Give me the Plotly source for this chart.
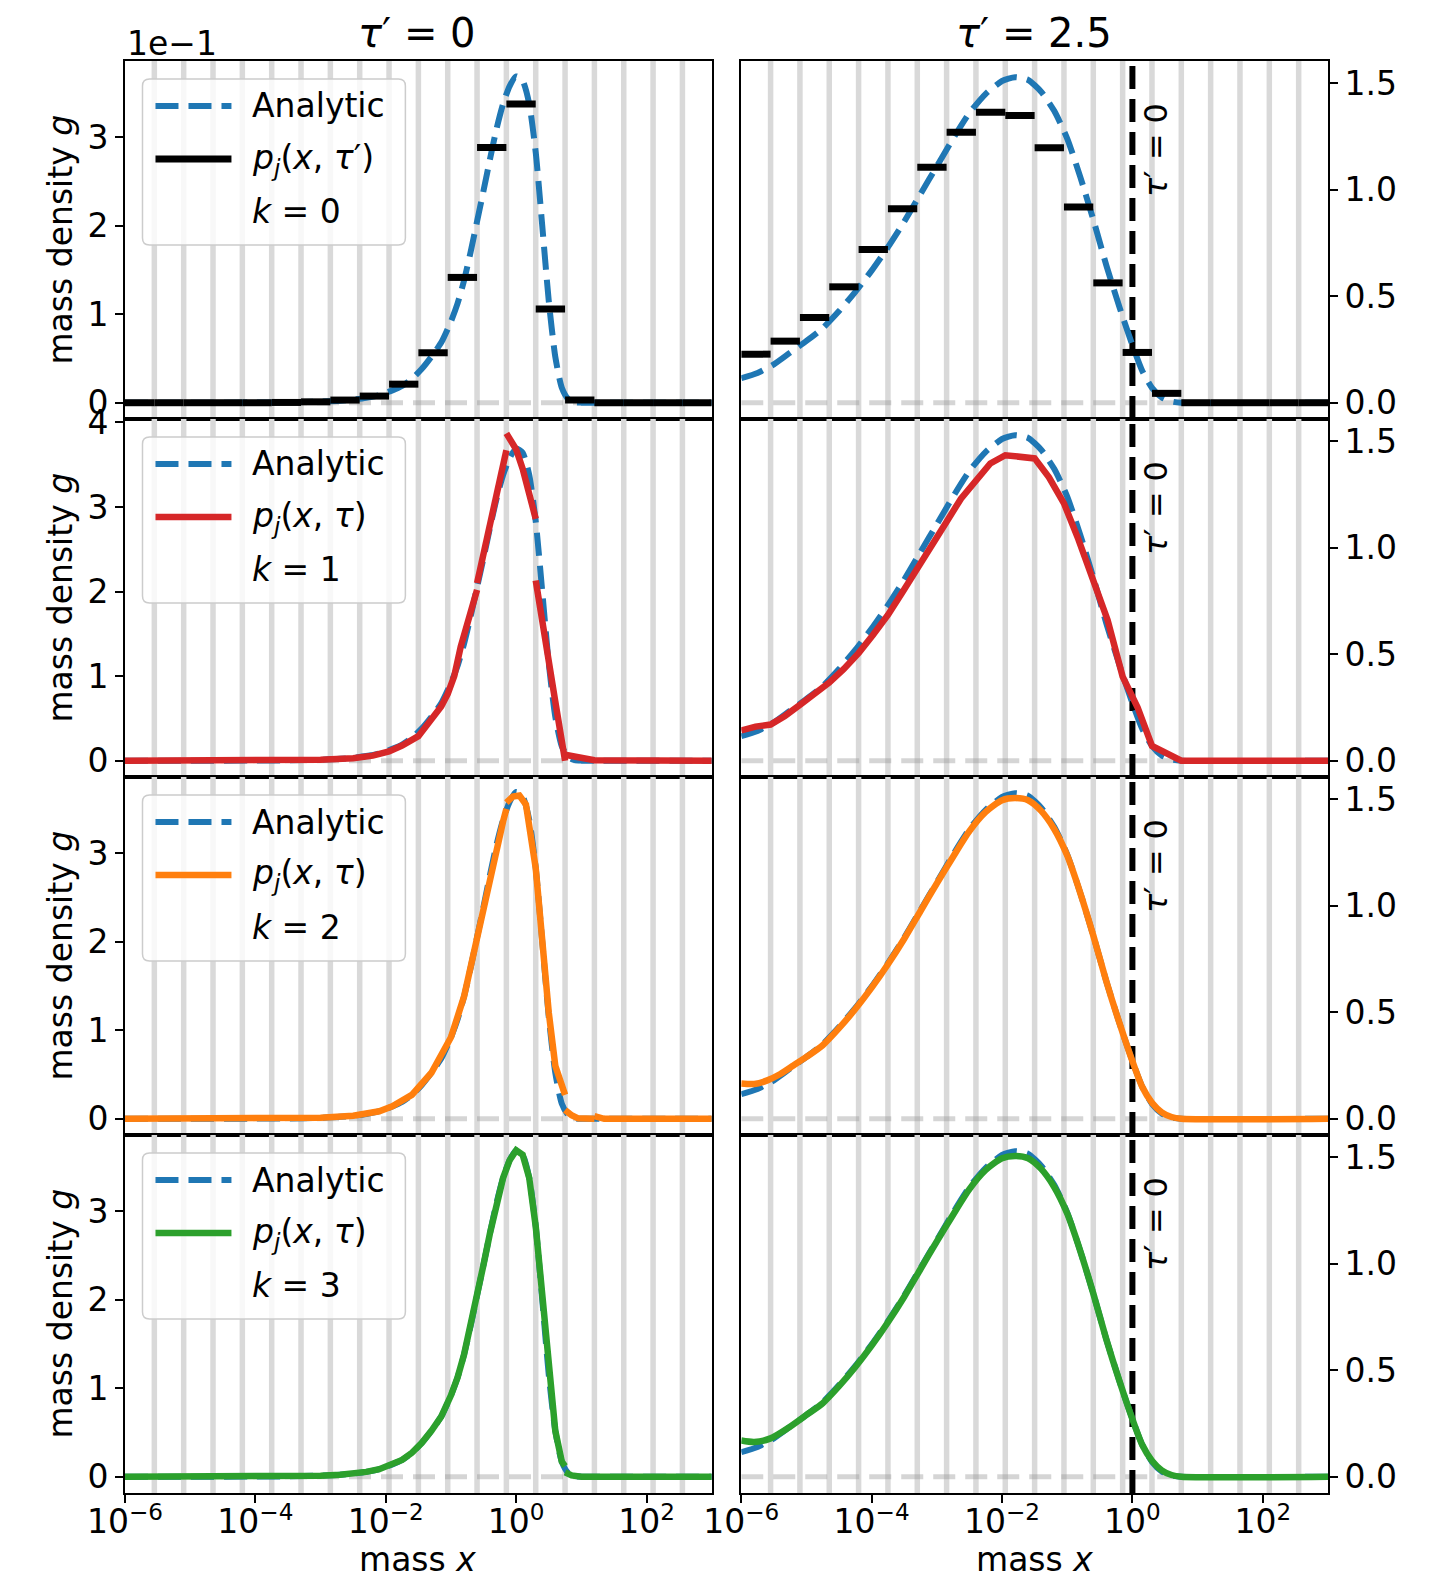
import plotly.graph_objects as go

# ---------------- data (x given as log10 of mass; None = break between bins) ----------------
BIN_EDGES_LOG = [-6.0, -5.55, -5.1, -4.65, -4.2, -3.75, -3.3, -2.85, -2.4, -1.95, -1.5,
                 -1.05, -0.6, -0.15, 0.3, 0.75, 1.2, 1.65, 2.1, 2.55, 3.0]

# tau' = 0 analytic (values in units of 1e-1)
A0_LOGX = [-6.0, -5.0, -4.0, -3.5, -3.0, -2.7, -2.5, -2.3, -2.1, -1.9, -1.75, -1.6, -1.45, -1.3,
           -1.15, -1.0, -0.9, -0.8, -0.7, -0.6, -0.5, -0.4, -0.3, -0.2, -0.1, 0.0, 0.1, 0.2,
           0.3, 0.4, 0.5, 0.6, 0.7, 0.8, 0.9, 1.0, 1.2, 3.0]
A0_G = [0.0, 0.0, 0.002, 0.004, 0.012, 0.022, 0.035, 0.055, 0.085, 0.14, 0.19, 0.27, 0.38, 0.52,
        0.68, 0.92, 1.12, 1.38, 1.70, 2.05, 2.40, 2.76, 3.10, 3.38, 3.58, 3.69, 3.64, 3.38,
        2.83, 2.00, 1.15, 0.52, 0.17, 0.04, 0.007, 0.001, 0.0, 0.0]

# tau' = 2.5 analytic
A25_LOGX = [-6.0, -5.75, -5.5, -5.25, -5.0, -4.75, -4.5, -4.25, -4.0, -3.75, -3.5, -3.25, -3.0,
            -2.75, -2.5, -2.25, -2.0, -1.8, -1.6, -1.4, -1.2, -1.0, -0.8, -0.6, -0.4, -0.2,
            0.0, 0.15, 0.3, 0.45, 0.6, 0.75, 3.0]
A25_G = [0.115, 0.14, 0.18, 0.235, 0.29, 0.35, 0.43, 0.52, 0.62, 0.73, 0.85, 0.98, 1.11,
         1.24, 1.36, 1.45, 1.51, 1.528, 1.515, 1.46, 1.37, 1.24, 1.06, 0.86, 0.645, 0.45,
         0.27, 0.15, 0.07, 0.025, 0.006, 0.0, 0.0]

# k = 0 : bin values p_j
P0_LEFT = [0.0, 0.0, 0.0, 0.0, 0.0, 0.003, 0.01, 0.03, 0.075, 0.21, 0.565, 1.417, 2.887,
           3.377, 1.059, 0.03, 0.0, 0.0, 0.0, 0.0]
P0_RIGHT = [0.228, 0.289, 0.40, 0.544, 0.719, 0.911, 1.105, 1.269, 1.364, 1.348, 1.197,
            0.919, 0.5625, 0.236, 0.044, 0.0, 0.0, 0.0, 0.0, 0.0]

# k = 1
K1L_LOGX = [-6.0, -4.0, -3.0, -2.5, -2.2, -1.95, -1.75, -1.5, -1.3, -1.15, -1.05, -0.95, -0.85,
            -0.75, -0.6, None, -0.6, -0.5, -0.4, -0.3, -0.15, None, -0.15, 0.0, 0.1, 0.2, 0.3,
            None, 0.3, 0.45, 0.6, 0.75, None, 0.75, 1.0, 1.2, 3.0]
K1L_G = [0.0, 0.002, 0.012, 0.03, 0.06, 0.11, 0.18, 0.29, 0.48, 0.64, 0.79, 1.00, 1.35,
         1.62, 2.02, None, 2.10, 2.45, 2.75, 3.10, 3.67, None, 3.87, 3.68, 3.45, 3.18, 2.86,
         None, 2.13, 1.35, 0.70, 0.0, None, 0.07, 0.03, 0.005, 0.0]
K1R_LOGX = [-6.0, -5.78, -5.55, -5.33, -5.1, -4.88, -4.65, -4.43, -4.2, -3.98, -3.75, -3.53,
            -3.3, -3.08, -2.85, -2.63, -2.4, -2.18, -1.95, -1.73, -1.5, -1.28, -1.05, -0.83,
            -0.6, -0.38, -0.15, 0.08, 0.3, 0.52, 0.75, 3.0]
K1R_G = [0.142, 0.16, 0.17, 0.21, 0.262, 0.31, 0.367, 0.43, 0.505, 0.59, 0.684, 0.79,
         0.898, 1.01, 1.122, 1.23, 1.317, 1.395, 1.434, 1.43, 1.419, 1.33, 1.208, 1.04,
         0.84, 0.66, 0.395, 0.25, 0.07, 0.036, 0.0, 0.0]

# k = 2
K2L_LOGX = [-6.0, -4.0, -3.0, -2.5, -2.1, -1.9, -1.6, -1.3, -1.0, -0.8, -0.6, -0.4, -0.2,
            -0.15, None, -0.15, -0.05, 0.05, 0.15, 0.3, 0.4, 0.5, 0.6, 0.7, 0.75, None, 0.75,
            0.85, 0.95, 1.1, 1.2, None, 1.2, 1.35, 3.0]
K2L_G = [0.0, 0.002, 0.012, 0.035, 0.085, 0.14, 0.27, 0.52, 0.92, 1.38, 2.05, 2.76, 3.36,
         3.50, None, 3.57, 3.64, 3.65, 3.55, 2.83, 2.02, 1.2, 0.6, 0.35, 0.27, None, 0.10,
         0.04, 0.005, 0.0, 0.0, None, 0.03, 0.0, 0.0]
K2R_LOGX = [-6.0, -5.8, -5.6, -5.4, -5.2, -5.0, -4.75, -4.5, -4.25, -4.0, -3.75, -3.5, -3.25,
            -3.0, -2.75, -2.5, -2.25, -2.0, -1.8, -1.6, -1.4, -1.2, -1.0, -0.8, -0.6, -0.4,
            -0.2, 0.0, 0.15, 0.3, 0.45, 0.6, 0.75, 3.0]
K2R_G = [0.165, 0.163, 0.18, 0.21, 0.25, 0.29, 0.345, 0.425, 0.515, 0.615, 0.725, 0.845,
         0.975, 1.105, 1.23, 1.35, 1.44, 1.495, 1.505, 1.495, 1.445, 1.36, 1.235, 1.06,
         0.86, 0.645, 0.45, 0.27, 0.15, 0.075, 0.03, 0.008, 0.0, 0.0]

# k = 3
K3L_LOGX = [-6.0, -5.0, -4.0, -3.5, -3.0, -2.7, -2.5, -2.3, -2.1, -1.9, -1.75, -1.6, -1.45,
            -1.3, -1.15, -1.0, -0.9, -0.8, -0.7, -0.6, -0.5, -0.4, -0.3, -0.2, -0.1, 0.0, 0.1,
            0.2, 0.3, 0.4, 0.5, 0.6, 0.7, 0.75, None, 0.75, 0.85, 1.0, 3.0]
K3L_G = [0.0, 0.0, 0.002, 0.004, 0.012, 0.022, 0.035, 0.055, 0.085, 0.14, 0.19, 0.27, 0.38,
         0.52, 0.68, 0.92, 1.12, 1.38, 1.70, 2.05, 2.40, 2.76, 3.10, 3.38, 3.58, 3.69, 3.64,
         3.38, 2.83, 2.00, 1.15, 0.52, 0.17, 0.12, None, 0.05, 0.015, 0.0, 0.0]
K3R_LOGX = [-6.0, -5.8, -5.55, -5.3, -5.0, -4.75, -4.5, -4.25, -4.0, -3.75, -3.5, -3.25,
            -3.0, -2.75, -2.5, -2.25, -2.0, -1.8, -1.6, -1.4, -1.2, -1.0, -0.8, -0.6, -0.4,
            -0.2, 0.0, 0.15, 0.3, 0.45, 0.6, 0.75, 3.0]
K3R_G = [0.17, 0.163, 0.18, 0.225, 0.29, 0.345, 0.425, 0.515, 0.615, 0.725, 0.845, 0.975,
         1.105, 1.23, 1.35, 1.44, 1.495, 1.506, 1.495, 1.445, 1.36, 1.235, 1.06, 0.86,
         0.645, 0.45, 0.27, 0.15, 0.075, 0.03, 0.008, 0.0, 0.0]

X_TICK_EXP = [-6, -4, -2, 0, 2]
LEFT_YTICKS = [[0, 1, 2, 3], [0, 1, 2, 3, 4], [0, 1, 2, 3], [0, 1, 2, 3]]
RIGHT_YTICKS = [0.0, 0.5, 1.0, 1.5]
COL_TITLES = ["<i>τ</i>′ = 0", "<i>τ</i>′ = 2.5"]
K_LABELS = ["<i>k</i> = 0", "<i>k</i> = 1", "<i>k</i> = 2", "<i>k</i> = 3"]

# ---------------- style ----------------
BLUE, RED, ORANGE, GREEN = "#1f77b4", "#d62728", "#ff7f0e", "#2ca02c"
FONT = "DejaVu Sans"
FS = 33
OFF = 8  # page body margin in the browser
W, H = 1430 - 2 * OFF, 1587 - 2 * OFF
ML, MT = 124.5 - OFF, 61 - OFF
MR = W - (1328 - OFF)
MB = H - (1493 - OFF)
PW, PH = W - ML - MR, H - MT - MB
ROW_H = PH / 4
LEFT_YRANGE = [[-0.184, 3.864], [-0.1925, 4.04], [-0.183, 3.86], [-0.184, 3.864]]
RIGHT_YRANGE = [-0.0764, 1.604]
DASH = "23px,10px"


def pxx(px):  # screen x -> paper
    return (px - OFF - ML) / PW


def pxy(py):  # screen y -> paper
    return (H - MB - (py - OFF)) / PH


def tolin(lst):
    return [None if v is None else 10 ** v for v in lst]


fig = go.Figure()

left_num = [None, (K1L_LOGX, K1L_G, RED, False), (K2L_LOGX, K2L_G, ORANGE, False),
            (K3L_LOGX, K3L_G, GREEN, False)]
right_num = [None, (K1R_LOGX, K1R_G, RED, False), (K2R_LOGX, K2R_G, ORANGE, True),
             (K3R_LOGX, K3R_G, GREEN, True)]

layout_axes = {}
for r in range(4):
    for c in range(2):
        idx = r * 2 + c + 1
        xa = "x" if idx == 1 else f"x{idx}"
        ya = "y" if idx == 1 else f"y{idx}"
        yr = LEFT_YRANGE[r] if c == 0 else RIGHT_YRANGE

        vx, vy = [], []
        for e in BIN_EDGES_LOG[1:-1]:
            vx += [10 ** e, 10 ** e, None]
            vy += [yr[0], yr[1], None]
        fig.add_trace(go.Scatter(x=vx, y=vy, mode="lines", xaxis=xa, yaxis=ya,
                                 line=dict(color="#d9d9d9", width=5.5), hoverinfo="skip"))
        fig.add_trace(go.Scatter(x=[1e-6, 1e3], y=[0, 0], mode="lines", xaxis=xa, yaxis=ya,
                                 line=dict(color="rgba(150,150,150,0.4)", width=5, dash="22px,10px"),
                                 hoverinfo="skip"))
        if c == 1:
            fig.add_trace(go.Scatter(x=[1, 1], y=[yr[0], yr[1]], mode="lines", xaxis=xa, yaxis=ya,
                                     line=dict(color="black", width=6, dash=DASH), hoverinfo="skip"))
        ax_, ag_ = (A0_LOGX, A0_G) if c == 0 else (A25_LOGX, A25_G)
        fig.add_trace(go.Scatter(x=tolin(ax_), y=ag_, mode="lines", xaxis=xa, yaxis=ya,
                                 line=dict(color=BLUE, width=6, dash=DASH, shape="spline", smoothing=0.6),
                                 hoverinfo="skip"))
        if r == 0:
            vals = P0_LEFT if c == 0 else P0_RIGHT
            bx, by = [], []
            for k, v in enumerate(vals):
                bx += [10 ** BIN_EDGES_LOG[k], 10 ** BIN_EDGES_LOG[k + 1], None]
                by += [v, v, None]
            fig.add_trace(go.Scatter(x=bx, y=by, mode="lines", xaxis=xa, yaxis=ya,
                                     line=dict(color="black", width=7), hoverinfo="skip"))
        else:
            nx, ng, col, smooth = (left_num if c == 0 else right_num)[r]
            ln = dict(color=col, width=6.5)
            if smooth:
                ln.update(shape="spline", smoothing=0.7)
            fig.add_trace(go.Scatter(x=tolin(nx), y=ng, mode="lines", xaxis=xa, yaxis=ya,
                                     line=ln, connectgaps=False, hoverinfo="skip"))

        gap = (741 - 711.5) / PW
        wcol = (1 - gap) / 2
        xdom = [0.0, wcol] if c == 0 else [1 - wcol, 1.0]
        ydom = [1 - (r + 1) * 0.25, 1 - r * 0.25]
        bottom = (r == 3)
        xkey = "xaxis" if idx == 1 else f"xaxis{idx}"
        ykey = "yaxis" if idx == 1 else f"yaxis{idx}"
        layout_axes[xkey] = dict(
            type="log", range=[-6, 3], domain=xdom, anchor=ya,
            showline=True, linecolor="black", linewidth=1.6, mirror=True,
            showgrid=False, zeroline=False,
            ticks="outside" if bottom else "", ticklen=8, tickwidth=1.6, tickcolor="black",
            tickvals=[10 ** e for e in X_TICK_EXP],
            ticktext=[f"10<sup>{'−' if e < 0 else ''}{abs(e)}</sup>" for e in X_TICK_EXP],
            showticklabels=bottom, tickfont=dict(size=FS, color="black", family=FONT),
            ticklabelstandoff=-9,
        )
        if c == 0:
            tv = LEFT_YTICKS[r]
            tt = [str(t) for t in tv]
        else:
            tv = RIGHT_YTICKS
            tt = [f"{t:.1f}" for t in tv]
        layout_axes[ykey] = dict(
            range=yr, domain=ydom, anchor=xa, side="left" if c == 0 else "right",
            showline=True, linecolor="black", linewidth=1.6, mirror=True,
            showgrid=False, zeroline=False, ticks="outside", ticklen=8, tickwidth=1.6,
            tickcolor="black", tickvals=tv, ticktext=tt,
            tickfont=dict(size=FS, color="black", family=FONT),
        )

annotations = []
shapes = []
for c, t in enumerate(COL_TITLES):
    annotations.append(dict(x=pxx(417 if c == 0 else 1034), y=pxy(33), xref="paper", yref="paper",
                            text=t, showarrow=False, xanchor="center", yanchor="middle",
                            font=dict(size=40, color="black", family=FONT)))
annotations.append(dict(x=pxx(125), y=pxy(43), xref="paper", yref="paper", text="1e−1",
                        showarrow=False, xanchor="left", yanchor="middle",
                        font=dict(size=FS, color="black", family=FONT)))
for r in range(4):
    top = 61 + r * ROW_H
    annotations.append(dict(x=pxx(59), y=pxy(top + ROW_H / 2), xref="paper", yref="paper",
                            text="mass density <i>g</i>", textangle=-90, showarrow=False,
                            xanchor="center", yanchor="middle",
                            font=dict(size=FS, color="black", family=FONT)))
    annotations.append(dict(x=pxx(1156), y=pxy(top + 89), xref="paper", yref="paper",
                            text="<i>τ</i>′ = 0", textangle=-90, showarrow=False,
                            xanchor="center", yanchor="middle",
                            font=dict(size=32, color="black", family=FONT)))
for c in range(2):
    annotations.append(dict(x=pxx(417 if c == 0 else 1034), y=pxy(1559), xref="paper", yref="paper",
                            text="mass <i>x</i>", showarrow=False, xanchor="center", yanchor="middle",
                            font=dict(size=FS, color="black", family=FONT)))

num_colors = ["black", RED, ORANGE, GREEN]
for r in range(4):
    top = 61 + r * ROW_H
    x0, x1 = pxx(142), pxx(405)
    yt, yb = pxy(top + 18), pxy(top + 184)
    rx, ry = 7 / PW, 7 / PH
    path = (f"M{x0 + rx},{yt} L{x1 - rx},{yt} Q{x1},{yt} {x1},{yt - ry} L{x1},{yb + ry} "
            f"Q{x1},{yb} {x1 - rx},{yb} L{x0 + rx},{yb} Q{x0},{yb} {x0},{yb + ry} "
            f"L{x0},{yt - ry} Q{x0},{yt} {x0 + rx},{yt} Z")
    shapes.append(dict(type="path", path=path, xref="paper", yref="paper",
                       fillcolor="rgba(255,255,255,0.8)", line=dict(color="#cccccc", width=1.5),
                       layer="above"))
    shapes.append(dict(type="line", xref="paper", yref="paper", x0=pxx(155), x1=pxx(231),
                       y0=pxy(top + 45), y1=pxy(top + 45),
                       line=dict(color=BLUE, width=6, dash=DASH), layer="above"))
    shapes.append(dict(type="line", xref="paper", yref="paper", x0=pxx(155), x1=pxx(231),
                       y0=pxy(top + 98), y1=pxy(top + 98),
                       line=dict(color=num_colors[r], width=7 if r == 0 else 6.5), layer="above"))
    ptxt = "<i>p<sub>j</sub></i>(<i>x</i>, <i>τ</i>′)" if r == 0 else "<i>p<sub>j</sub></i>(<i>x</i>, <i>τ</i>)"
    for txt, off in (("Analytic", 45), (ptxt, 98), (K_LABELS[r], 150.5)):
        annotations.append(dict(x=pxx(250), y=pxy(top + off), xref="paper", yref="paper",
                                text=txt, showarrow=False, xanchor="left", yanchor="middle",
                                font=dict(size=FS, color="black", family=FONT)))

fig.update_layout(
    width=W, height=H, margin=dict(l=ML, r=MR, t=MT, b=MB, autoexpand=False),
    paper_bgcolor="white", plot_bgcolor="white", showlegend=False,
    font=dict(family=FONT, size=FS, color="black"),
    annotations=annotations, shapes=shapes, **layout_axes,
)

fig.write_html("out.html")
